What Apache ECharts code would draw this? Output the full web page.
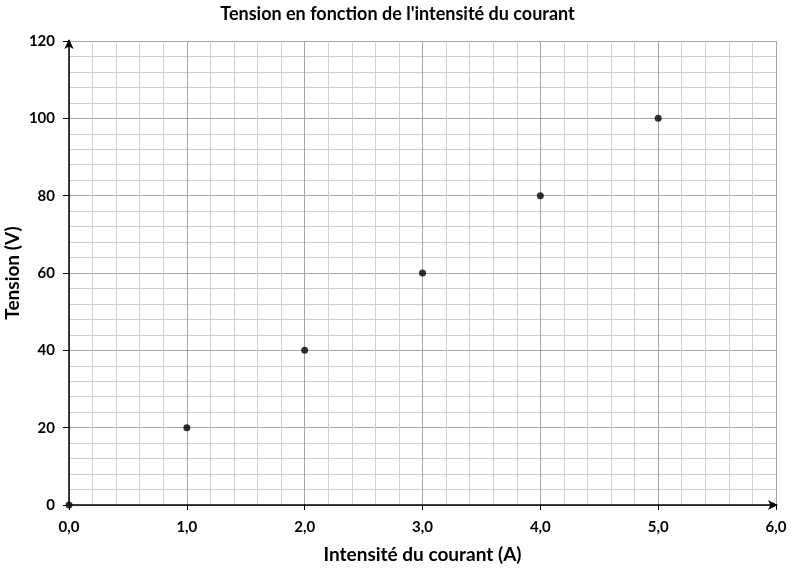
<!DOCTYPE html>
<html>
<head>
<meta charset="utf-8">
<script src="https://cdn.jsdelivr.net/npm/echarts@6/dist/echarts.min.js"></script>
<style>
  html, body { margin: 0; padding: 0; background: #fff; }
  #chart { width: 795px; height: 570px; }
</style>
</head>
<body>
<div id="chart"></div>
<script>
"use strict";
var intensite = [0, 1, 2, 3, 4, 5];
var tension = [0, 20, 40, 60, 80, 100];

var font = "Lato, 'Open Sans', sans-serif";
var points = intensite.map(function (x, i) { return [x, tension[i]]; });

var chart = echarts.init(document.getElementById("chart"));
chart.setOption({
    animation: false,
    title: {
        text: "Tension en fonction de l'intensité du courant",
        left: "center", top: 0,
        textStyle: { fontFamily: font, fontSize: 18, fontWeight: "bold", color: "#000" }
    },
    grid: { left: 69, right: 19, top: 41, bottom: 65, outerBoundsMode: "none", containLabel: false },
    xAxis: {
        type: "value", min: 0, max: 6, interval: 1,
        name: "Intensité du courant (A)", nameLocation: "middle", nameGap: 40, nameMoveOverlap: false,
        nameTextStyle: { fontFamily: font, fontSize: 19, fontWeight: "bold", color: "#000" },
        axisLine: { show: true, onZero: false, symbol: ["none", "arrow"], symbolSize: [7, 10], symbolOffset: [0, 2],
            lineStyle: { color: "#000", width: 1.5 } },
        axisTick: { show: true, length: 5, inside: false, lineStyle: { color: "#000" } },
        axisLabel: { fontFamily: font, fontSize: 15, fontWeight: "bold", color: "#000", margin: 15,
            formatter: function (v) { return v.toFixed(1).replace(".", ","); } },
        splitLine: { show: true, lineStyle: { color: "#a6a6a6", width: 1 } },
        minorTick: { show: false, splitNumber: 5 },
        minorSplitLine: { show: true, lineStyle: { color: "#cfcfcf", width: 1 } }
    },
    yAxis: {
        type: "value", min: 0, max: 120, interval: 20,
        name: "Tension (V)", nameLocation: "middle", nameGap: 47, nameRotate: 90, nameMoveOverlap: false,
        nameTextStyle: { fontFamily: font, fontSize: 19, fontWeight: "bold", color: "#000" },
        axisLine: { show: true, onZero: false, symbol: ["none", "arrow"], symbolSize: [7, 10], symbolOffset: [0, 2],
            lineStyle: { color: "#000", width: 1.5 } },
        axisTick: { show: true, length: 6, inside: false, lineStyle: { color: "#000" } },
        axisLabel: { fontFamily: font, fontSize: 15, fontWeight: "bold", color: "#000", margin: 14 },
        splitLine: { show: true, lineStyle: { color: "#a6a6a6", width: 1 } },
        minorTick: { show: false, splitNumber: 5 },
        minorSplitLine: { show: true, lineStyle: { color: "#cfcfcf", width: 1 } }
    },
    series: [{
        type: "scatter",
        data: points,
        symbol: "circle",
        symbolSize: 7,
        itemStyle: { color: "#000" },
        z: 5
    }]
});
</script>
</body>
</html>
